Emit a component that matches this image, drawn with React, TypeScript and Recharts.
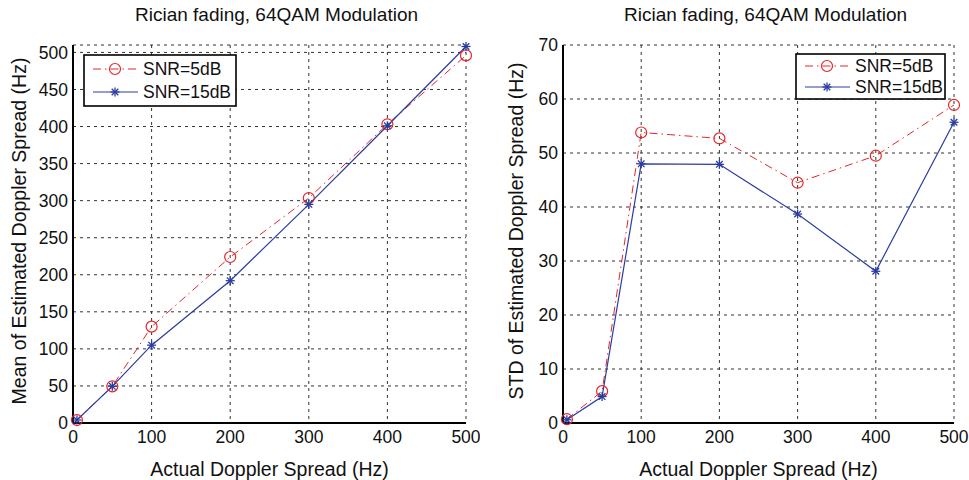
import { LineChart, Line, XAxis, YAxis, CartesianGrid, Legend, Label } from 'recharts';

const FONT = '"Liberation Sans", Arial, Helvetica, sans-serif';
const RED = '#e3262a';
const BLUE = '#2b3c9e';

const dopplerSpread = [5, 50, 100, 200, 300, 400, 500];
const meanSnr5 = [4, 49.5, 130, 224, 303.5, 403, 496];
const meanSnr15 = [4, 49.5, 105, 192, 295, 401, 508];
const stdSnr5 = [0.7, 5.9, 53.8, 52.7, 44.5, 49.5, 58.9];
const stdSnr15 = [0.6, 4.9, 48, 47.9, 38.7, 28.1, 55.7];

const xTicks = [0, 100, 200, 300, 400, 500];
const meanTicks = [0, 50, 100, 150, 200, 250, 300, 350, 400, 450, 500];
const stdTicks = [0, 10, 20, 30, 40, 50, 60, 70];

const seriesNames = ['SNR=5dB', 'SNR=15dB'];
const plotTitle = 'Rician fading, 64QAM Modulation';
const xTitle = 'Actual Doppler Spread (Hz)';

const meanRows = dopplerSpread.map((x, i) => ({ x, snr5: meanSnr5[i], snr15: meanSnr15[i] }));
const stdRows = dopplerSpread.map((x, i) => ({ x, snr5: stdSnr5[i], snr15: stdSnr15[i] }));

function CircleDot(props: any) {
    const { cx, cy } = props;
    if (cx == null || cy == null) return null;
    return <circle cx={cx} cy={cy} r={5.5} fill="none" stroke={RED} strokeWidth={1.2} />;
}

function StarDot(props: any) {
    const { cx, cy } = props;
    if (cx == null || cy == null) return null;
    const a = 4.5, d = 3.3;
    return <g stroke={BLUE} strokeWidth={1.3}>
        <line x1={cx - a} y1={cy} x2={cx + a} y2={cy} />
        <line x1={cx} y1={cy - a} x2={cx} y2={cy + a} />
        <line x1={cx - d} y1={cy - d} x2={cx + d} y2={cy + d} />
        <line x1={cx - d} y1={cy + d} x2={cx + d} y2={cy - d} />
    </g>
}

function LegendBox(props: { w: number, h: number, rowGap: number }) {
    const y1 = props.h / 2 - props.rowGap / 2;
    const y2 = props.h / 2 + props.rowGap / 2;
    return <svg width={props.w} height={props.h} style={{ display: 'block' }}>
        <rect x={1} y={1} width={props.w - 2} height={props.h - 2} fill="#fff" stroke="#000" strokeWidth={1.6} />
        <line x1={10} y1={y1} x2={55} y2={y1} stroke={RED} strokeWidth={1} strokeDasharray="8 4 1.5 4" />
        <CircleDot cx={32} cy={y1} />
        <line x1={10} y1={y2} x2={55} y2={y2} stroke={BLUE} strokeWidth={1} />
        <StarDot cx={32} cy={y2} />
        <text x={60} y={y1 + 6} fontSize={17.5} fontFamily={FONT} fill="#111">{seriesNames[0]}</text>
        <text x={60} y={y2 + 6} fontSize={17.5} fontFamily={FONT} fill="#111">{seriesNames[1]}</text>
    </svg>
}

function Panel(props: {
    rows: any[], yTicks: number[], yMax: number, yTitle: string, left: number, width: number,
    plotLeft: number, plotRight: number, yTitleX: number, legendPos: { left: number, top: number, w: number, h: number, gap: number }
}) {
    const { rows, yTicks, yMax, yTitle, width, plotLeft, plotRight, yTitleX, legendPos } = props;
    const tick = { fill: '#111', fontSize: 17.5, fontFamily: FONT };
    return <div style={{ position: 'absolute', left: props.left, top: 0, width, height: 480 }}>
        <div style={{
            position: 'absolute', left: 0, top: 4, width: (plotLeft + plotRight) + 14, textAlign: 'center',
            fontFamily: FONT, fontSize: 19, color: '#111', whiteSpace: 'nowrap'
        }}>{plotTitle}</div>
        <LineChart width={width} height={480} data={rows}
                   margin={{ top: 45, right: width - plotRight, bottom: 27, left: plotLeft - 60 }}>
            <CartesianGrid stroke="#333" strokeDasharray="3 4" strokeWidth={1} />
            <XAxis dataKey="x" type="number" domain={[0, 500]} ticks={xTicks} height={30}
                   axisLine={{ stroke: '#000', strokeWidth: 2 }} tickLine={false} tick={tick} tickMargin={2}>
                <Label content={(p: any) => {
                    const vb = p.viewBox;
                    return <text x={vb.x + vb.width / 2} y={476} textAnchor="middle" fontSize={19.5}
                                 fontFamily={FONT} fill="#111">{xTitle}</text>
                }} />
            </XAxis>
            <XAxis xAxisId="top" orientation="top" type="number" domain={[0, 500]} height={0}
                   axisLine={{ stroke: '#000', strokeWidth: 2 }} tickLine={false} tick={false} />
            <YAxis type="number" domain={[0, yMax]} ticks={yTicks} width={60} interval={0}
                   axisLine={{ stroke: '#000', strokeWidth: 2 }} tickLine={false} tick={tick} tickMargin={0} tickSize={5}>
                <Label content={(p: any) => {
                    const vb = p.viewBox;
                    const cy = vb.y + vb.height / 2 - 3;
                    return <text x={yTitleX} y={cy} transform={`rotate(-90 ${yTitleX} ${cy})`} textAnchor="middle"
                                 fontSize={19.5} fontFamily={FONT} fill="#111">{yTitle}</text>
                }} />
            </YAxis>
            <YAxis yAxisId="right" orientation="right" type="number" domain={[0, yMax]} width={0}
                   axisLine={{ stroke: '#000', strokeWidth: 2 }} tickLine={false} tick={false} />
            <Legend layout="vertical" align="center" verticalAlign="middle"
                    wrapperStyle={{ left: legendPos.left, top: legendPos.top, width: legendPos.w, height: legendPos.h }}
                    content={() => <LegendBox w={legendPos.w} h={legendPos.h} rowGap={legendPos.gap} />} />
            <Line type="linear" dataKey="snr5" name={seriesNames[0]} stroke={RED} strokeWidth={1}
                  strokeDasharray="8 4 1.5 4" dot={<CircleDot />} activeDot={false} isAnimationActive={false} />
            <Line type="linear" dataKey="snr15" name={seriesNames[1]} stroke={BLUE} strokeWidth={1.2}
                  dot={<StarDot />} activeDot={false} isAnimationActive={false} />
        </LineChart>
    </div>
}

export default function App() {
    return <div style={{ position: 'absolute', left: 0, top: 0, width: 969, height: 480, background: '#fff' }}>
        <Panel rows={meanRows} yTicks={meanTicks} yMax={510} yTitle="Mean of Estimated Doppler Spread (Hz)"
               left={0} width={480} plotLeft={73} plotRight={466} yTitleX={26}
               legendPos={{ left: 83, top: 54, w: 154, h: 53, gap: 23 }} />
        <Panel rows={stdRows} yTicks={stdTicks} yMax={70} yTitle="STD of Estimated Doppler Spread (Hz)"
               left={480} width={489} plotLeft={83} plotRight={474} yTitleX={43}
               legendPos={{ left: 315, top: 53, w: 151, h: 47, gap: 21 }} />
    </div>
}
